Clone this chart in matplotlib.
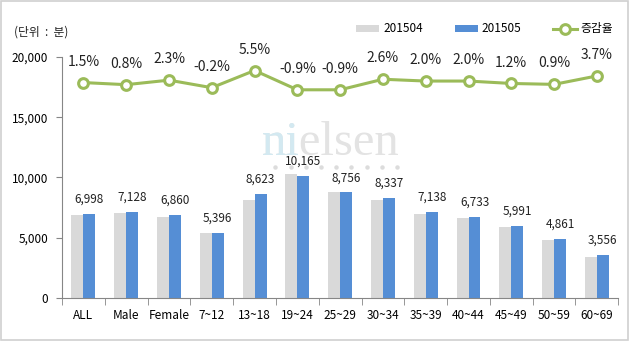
import matplotlib
matplotlib.use("Agg")
import matplotlib.pyplot as plt
import numpy as np
from matplotlib.patches import Rectangle
from matplotlib.lines import Line2D

plt.rcParams['font.family'] = ['Noto Sans CJK KR', 'DejaVu Sans']

categories = ["ALL", "Male", "Female", "7~12", "13~18", "19~24", "25~29",
              "30~34", "35~39", "40~44", "45~49", "50~59", "60~69"]
v201504 = [6895, 7071, 6706, 5407, 8173, 10257, 8836, 8126, 6998, 6601, 5920, 4818, 3429]
v201505 = [6998, 7128, 6860, 5396, 8623, 10165, 8756, 8337, 7138, 6733, 5991, 4861, 3556]
change = [1.5, 0.8, 2.3, -0.2, 5.5, -0.9, -0.9, 2.6, 2.0, 2.0, 1.2, 0.9, 3.7]

gray = "#D9D9D9"
blue = "#558ED5"
green = "#9BBB59"
axis_col = "#868686"

fig = plt.figure(figsize=(6.3, 3.41), dpi=100)

# watermark behind everything
fig.text(0.416, 0.545, "nielsen", fontsize=35, family="Liberation Serif",
         color="#E3E3E3", ha="left", va="baseline", zorder=0)
fig.text(0.416, 0.545, "ni", fontsize=35, family="Liberation Serif",
         color="#D3E9F1", ha="left", va="baseline", zorder=0)
fig.add_artist(Line2D(np.linspace(0.437, 0.630, 9), [0.51] * 9, transform=fig.transFigure,
                      ls="none", marker="o", markersize=3.2, color="#DCDCDC",
                      markeredgewidth=0, zorder=0))

ax = fig.add_axes([0.0984, 0.126, 0.883, 0.707])
ax.patch.set_alpha(0)

x = np.arange(len(categories))
w = 0.28
b1 = ax.bar(x - w / 2, v201504, w, color=gray, label="201504", zorder=2)
b2 = ax.bar(x + w / 2, v201505, w, color=blue, label="201505", zorder=2)
for xi, v in zip(x, v201505):
    ax.annotate(f"{v:,}", (xi + w / 2, v), xytext=(0, 6), textcoords="offset points",
                ha="center", va="bottom", fontsize=8.5, color="#222222")

ax.set_xlim(-0.5, len(categories) - 0.5)
ax.set_ylim(0, 20000)
ax.set_yticks([0, 5000, 10000, 15000, 20000])
ax.set_yticklabels([f"{t:,}" for t in [0, 5000, 10000, 15000, 20000]], fontsize=8.5)
ax.set_xticks(x)
ax.set_xticklabels(categories, fontsize=8.5)
ax.set_xticks(np.arange(-0.5, len(categories)), minor=True)
ax.tick_params(axis="x", which="major", length=0, pad=8)
ax.tick_params(axis="x", which="minor", length=5, color=axis_col, direction="out")
ax.tick_params(axis="y", length=4, color=axis_col, direction="out", pad=6)
for s in ["top", "right"]:
    ax.spines[s].set_visible(False)
for s in ["left", "bottom"]:
    ax.spines[s].set_color(axis_col)

ax2 = ax.twinx()
ax2.set_ylim(-70, 10)
ln, = ax2.plot(x, change, color=green, lw=2.2, marker="o", markersize=7,
               markerfacecolor="white", markeredgecolor=green, markeredgewidth=2.2,
               label="증감율", zorder=3)
for xi, c in zip(x, change):
    ax2.annotate(f"{c:.1f}%", (xi, c), xytext=(0, 10), textcoords="offset points",
                 ha="center", va="bottom", fontsize=10, color="#222222")
ax2.axis("off")

fig.text(0.022, 0.905, "(단위  :  분)", fontsize=8.5, color="#222222", va="center")

fig.legend(handles=[b1, b2, ln], labels=["201504", "201505", "증감율"],
           loc="center right", bbox_to_anchor=(0.99, 0.915), ncol=3, frameon=False,
           fontsize=8.5, handlelength=2.0, handleheight=0.55, columnspacing=2.7,
           handletextpad=0.3)

fig.patches.append(Rectangle((0.002, 0.003), 0.995, 0.993, transform=fig.transFigure,
                             fill=False, edgecolor="#D0D0D0", lw=1.2))

fig.savefig("out.png", dpi=100, facecolor="white")
